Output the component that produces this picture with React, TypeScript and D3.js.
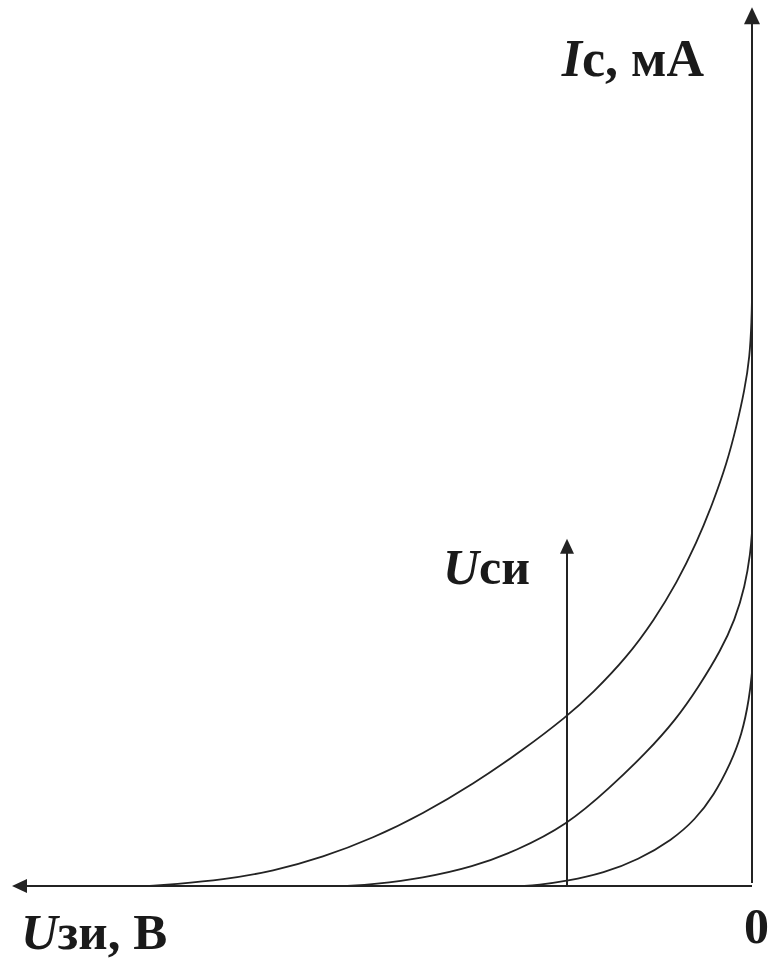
import React from "react";
import * as d3 from "d3";

// Uзи (V, increasing to the left) and Iс (mA)
const curve1U = [0, 0.005, 0.03, 0.1, 0.21, 0.34, 0.53, 0.75, 1.02, 1.32, 1.69, 2.15, 2.5, 3.1, 3.77, 4.45, 5.12, 5.8, 6.47, 7.15, 7.82, 8.14];
const curve1I = [6.77, 6.51, 6.08, 5.7, 5.28, 4.86, 4.4, 3.94, 3.48, 3.06, 2.63, 2.22, 1.95, 1.56, 1.17, 0.83, 0.55, 0.33, 0.17, 0.07, 0.02, 0];
const curve2U = [0, 0.02, 0.095, 0.23, 0.42, 0.72, 1.03, 1.43, 1.92, 2.5, 3.2, 3.77, 4.45, 5.12, 5.47];
const curve2I = [4.07, 3.83, 3.44, 3.06, 2.71, 2.29, 1.91, 1.53, 1.13, 0.7, 0.4, 0.22, 0.09, 0.02, 0];
const curve3U = [0, 0.034, 0.135, 0.3, 0.51, 0.77, 1.08, 1.54, 2.0, 2.5, 2.9, 3.11];
const curve3I = [2.46, 2.17, 1.74, 1.39, 1.05, 0.76, 0.53, 0.3, 0.15, 0.057, 0.011, 0];

const curvesU = [curve1U, curve2U, curve3U];
const curvesI = [curve1I, curve2I, curve3I];

const xAxisMax = 10;
const yAxisMax = 10.1;
const usiMarkU = 2.5;
const usiMarkTop = 3.99;

const labelIc = ["I", "с, мА"];
const labelUzi = ["U", "зи, В"];
const labelUsi = ["U", "си"];
const labelZero = "0";

export default function App() {
  const W = 770;
  const H = 961;
  const x = d3.scaleLinear().domain([0, 10]).range([752, 12]);
  const y = d3.scaleLinear().domain([0, 10]).range([886, 16]);

  const line = d3
    .line<[number, number]>()
    .x((d) => x(d[0]))
    .y((d) => y(d[1]))
    .curve(d3.curveBasis);

  const stroke = "#232323";
  const font = "'Liberation Serif', 'Times New Roman', serif";

  const x0 = x(0);
  const y0 = y(0);
  const xEnd = x(xAxisMax);
  const yEnd = y(yAxisMax);
  const xm = x(usiMarkU);
  const ym = y(usiMarkTop);

  return (
    <div style={{ position: "absolute", left: 0, top: 0 }}>
      <svg width={W} height={H} style={{ display: "block", background: "#fff" }}>
        <rect x={0} y={0} width={W} height={H} fill="#fff" />
        {/* curves */}
        {curvesU.map((us, k) => {
          const pts: [number, number][] = us.map((u, i) => [u, curvesI[k][i]] as [number, number]);
          return <path key={k} d={line(pts) || ""} fill="none" stroke={stroke} strokeWidth={1.8} />;
        })}
        {/* vertical axis */}
        <line x1={x0} y1={y0 - 3} x2={x0} y2={yEnd + 14} stroke={stroke} strokeWidth={2} />
        <path d={`M${x0},${yEnd} L${x0 - 8},${yEnd + 17} L${x0 + 8},${yEnd + 17} Z`} fill={stroke} />
        {/* horizontal axis */}
        <line x1={x0} y1={y0} x2={xEnd + 12} y2={y0} stroke={stroke} strokeWidth={2} />
        <path d={`M${xEnd},${y0} L${xEnd + 15},${y0 - 7} L${xEnd + 15},${y0 + 7} Z`} fill={stroke} />
        {/* Uси arrow */}
        <line x1={xm} y1={y0} x2={xm} y2={ym + 12} stroke={stroke} strokeWidth={2} />
        <path d={`M${xm},${ym} L${xm - 7},${ym + 15} L${xm + 7},${ym + 15} Z`} fill={stroke} />
        {/* labels */}
        <text x={x0 - 48} y={76} textAnchor="end" fontFamily={font} fontWeight="bold" fontSize={52} fill="#1a1a1a">
          <tspan fontStyle="italic">{labelIc[0]}</tspan>
          <tspan>{labelIc[1]}</tspan>
        </text>
        <text x={xm - 37} y={584} textAnchor="end" fontFamily={font} fontWeight="bold" fontSize={50} fill="#1a1a1a">
          <tspan fontStyle="italic">{labelUsi[0]}</tspan>
          <tspan>{labelUsi[1]}</tspan>
        </text>
        <text x={21} y={949} fontFamily={font} fontWeight="bold" fontSize={51} fill="#1a1a1a">
          <tspan fontStyle="italic">{labelUzi[0]}</tspan>
          <tspan>{labelUzi[1]}</tspan>
        </text>
        <text x={769} y={943} textAnchor="end" fontFamily={font} fontWeight="bold" fontSize={50} fill="#1a1a1a">
          {labelZero}
        </text>
      </svg>
    </div>
  );
}
